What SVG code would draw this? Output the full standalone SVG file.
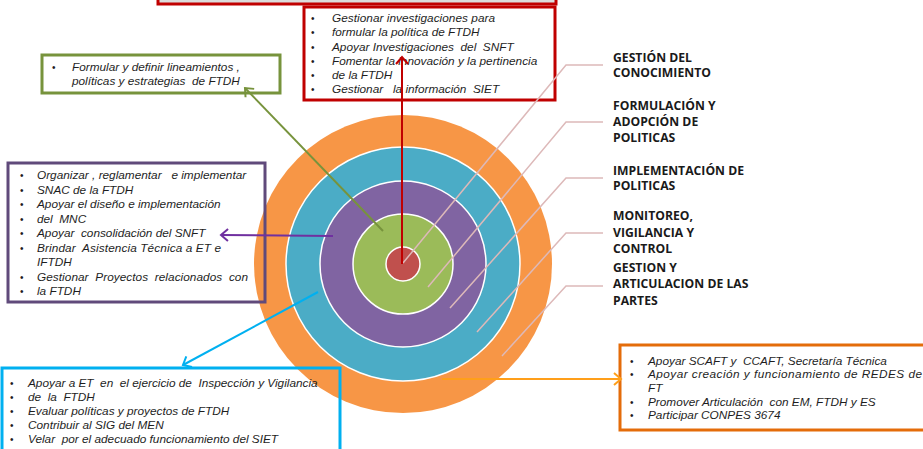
<svg xmlns="http://www.w3.org/2000/svg" width="923" height="449" viewBox="0 0 923 449">
<style>
.t{font-family:"Liberation Sans",Arial,sans-serif;font-size:11.8px;font-style:italic;fill:#1e1e1e;white-space:pre}
.b{font-family:"Liberation Sans",Arial,sans-serif;font-size:10px;fill:#1e1e1e}
.lab{font-family:"Open Sans","Liberation Sans",sans-serif;font-size:12.2px;font-weight:bold;fill:#1a1a1a}
.box{fill:none;stroke-width:3}
.lead{fill:none;stroke:#DDB9B9;stroke-width:1.5}
.ring{stroke:#fff;stroke-width:1.5}
</style>
<defs>
<marker id="aR" markerWidth="14" markerHeight="14" refX="10" refY="7" orient="auto" markerUnits="userSpaceOnUse"><path d="M3,1 L10,7 L3,13" fill="none" stroke="#C00000" stroke-width="2"/></marker>
<marker id="aG" markerWidth="14" markerHeight="14" refX="10" refY="7" orient="auto" markerUnits="userSpaceOnUse"><path d="M3,1 L10,7 L3,13" fill="none" stroke="#77933C" stroke-width="2"/></marker>
<marker id="aP" markerWidth="14" markerHeight="14" refX="10" refY="7" orient="auto" markerUnits="userSpaceOnUse"><path d="M3,1 L10,7 L3,13" fill="none" stroke="#7030A0" stroke-width="2"/></marker>
<marker id="aC" markerWidth="14" markerHeight="14" refX="10" refY="7" orient="auto" markerUnits="userSpaceOnUse"><path d="M3,1 L10,7 L3,13" fill="none" stroke="#00B0F0" stroke-width="2"/></marker>
<marker id="aO" markerWidth="14" markerHeight="14" refX="10" refY="7" orient="auto" markerUnits="userSpaceOnUse"><path d="M3,1 L10,7 L3,13" fill="none" stroke="#FF9F1A" stroke-width="2"/></marker>
</defs>
<rect width="923" height="449" fill="#fff"/>

<g id="target">
<circle cx="403" cy="264" r="149" fill="#F79646"/>
<circle class="ring" cx="403" cy="264" r="117" fill="#4BACC6"/>
<circle class="ring" cx="403" cy="264" r="83" fill="#8064A2"/>
<circle class="ring" cx="403" cy="264" r="50" fill="#9BBB59"/>
<circle class="ring" cx="403" cy="264" r="17" fill="#C0504D"/>
</g>

<g id="top-box">
<rect x="158" y="-10" width="398" height="14" fill="#DCDCDC" stroke="#C00000" stroke-width="3"/>
</g>

<g id="labels">
<text class="lab" x="613" y="62">GESTIÓN DEL</text>
<text class="lab" x="613" y="77">CONOCIMIENTO</text>
<text class="lab" x="613" y="110">FORMULACIÓN Y</text>
<text class="lab" x="613" y="126">ADOPCIÓN DE</text>
<text class="lab" x="613" y="142">POLITICAS</text>
<text class="lab" x="613" y="175">IMPLEMENTACIÓN DE</text>
<text class="lab" x="613" y="190">POLITICAS</text>
<text class="lab" x="613" y="220">MONITOREO,</text>
<text class="lab" x="613" y="237">VIGILANCIA Y</text>
<text class="lab" x="613" y="253">CONTROL</text>
<text class="lab" x="613" y="272">GESTION Y</text>
<text class="lab" x="613" y="288">ARTICULACION DE LAS</text>
<text class="lab" x="613" y="305">PARTES</text>
</g>

<g id="red-box">
<rect class="box" x="304" y="7" width="251" height="93" stroke="#C00000"/>
<g class="b"><text x="311" y="22">•</text><text x="311" y="36">•</text><text x="311" y="51">•</text><text x="311" y="65">•</text><text x="311" y="79">•</text><text x="311" y="93">•</text></g>
<text class="t" x="332" y="22" textLength="163" lengthAdjust="spacing">Gestionar investigaciones para</text>
<text class="t" x="332" y="36">formular la política de FTDH</text>
<text class="t" x="332" y="51">Apoyar Investigaciones  del  SNFT</text>
<text class="t" x="332" y="65">Fomentar la innovación y la pertinencia</text>
<text class="t" x="332" y="79">de la FTDH</text>
<text class="t" x="332" y="93">Gestionar   la información  SIET</text>
</g>

<g id="green-box">
<rect class="box" x="42" y="55" width="238" height="38" stroke="#77933C"/>
<text class="b" x="52" y="71">•</text>
<text class="t" x="72" y="71">Formular y definir lineamientos ,</text>
<text class="t" x="72" y="85">políticas y estrategias  de FTDH</text>
</g>

<g id="purple-box">
<rect class="box" x="8" y="163" width="257" height="139" stroke="#604A7B"/>
<g class="b"><text x="20" y="179">•</text><text x="20" y="193.5">•</text><text x="20" y="208">•</text><text x="20" y="222.5">•</text><text x="20" y="237">•</text><text x="20" y="251.5">•</text><text x="20" y="280.5">•</text><text x="20" y="295">•</text></g>
<text class="t" x="37" y="179">Organizar , reglamentar   e implementar</text>
<text class="t" x="37" y="193.5">SNAC de la FTDH</text>
<text class="t" x="37" y="208">Apoyar el diseño e implementación</text>
<text class="t" x="37" y="222.5">del  MNC</text>
<text class="t" x="37" y="237">Apoyar  consolidación del SNFT</text>
<text class="t" x="37" y="251.5" textLength="184" lengthAdjust="spacing">Brindar  Asistencia Técnica a ET e</text>
<text class="t" x="37" y="266">IFTDH</text>
<text class="t" x="37" y="280.5" textLength="211" lengthAdjust="spacing">Gestionar  Proyectos  relacionados  con</text>
<text class="t" x="37" y="295">la FTDH</text>
</g>

<g id="cyan-box">
<rect class="box" x="2" y="368" width="338" height="90" stroke="#00B0F0"/>
<g class="b"><text x="10" y="386.5">•</text><text x="10" y="400.5">•</text><text x="10" y="414.5">•</text><text x="10" y="428.5">•</text><text x="10" y="442.5">•</text></g>
<text class="t" x="28" y="386.5">Apoyar a ET  en  el ejercicio de  Inspección y Vigilancia</text>
<text class="t" x="28" y="400.5">de  la  FTDH</text>
<text class="t" x="28" y="414.5">Evaluar políticas y proyectos de FTDH</text>
<text class="t" x="28" y="428.5">Contribuir al SIG del MEN</text>
<text class="t" x="28" y="442.5">Velar  por el adecuado funcionamiento del SIET</text>
</g>

<g id="orange-box">
<rect class="box" x="620" y="345" width="310" height="85" stroke="#E46C0A"/>
<g class="b"><text x="630" y="364.5">•</text><text x="630" y="378">•</text><text x="630" y="405.5">•</text><text x="630" y="419">•</text></g>
<text class="t" x="648" y="364.5">Apoyar SCAFT y  CCAFT, Secretaría Técnica</text>
<text class="t" x="648" y="378" textLength="274" lengthAdjust="spacing">Apoyar creación y funcionamiento de REDES de</text>
<text class="t" x="648" y="392">FT</text>
<text class="t" x="648" y="405.5">Promover Articulación  con EM, FTDH y ES</text>
<text class="t" x="648" y="419">Participar CONPES 3674</text>
</g>

<g id="connectors">
<polyline class="lead" points="403,263 566,65 603,65"/>
<polyline class="lead" points="428,287 566,122 603,122"/>
<polyline class="lead" points="450,308 566,178 603,178"/>
<polyline class="lead" points="477,332 566,233 603,233"/>
<polyline class="lead" points="502,356 566,286 603,286"/>
<line x1="402" y1="264" x2="402" y2="57" stroke="#C00000" stroke-width="2" marker-end="url(#aR)"/>
<line x1="383" y1="231" x2="245" y2="88" stroke="#77933C" stroke-width="2" marker-end="url(#aG)"/>
<line x1="333" y1="236" x2="221" y2="235" stroke="#7030A0" stroke-width="2" marker-end="url(#aP)"/>
<line x1="318" y1="292" x2="183" y2="365" stroke="#00B0F0" stroke-width="2" marker-end="url(#aC)"/>
<line x1="442" y1="379" x2="621" y2="379" stroke="#FF9F1A" stroke-width="2" marker-end="url(#aO)"/>
</g>
</svg>
